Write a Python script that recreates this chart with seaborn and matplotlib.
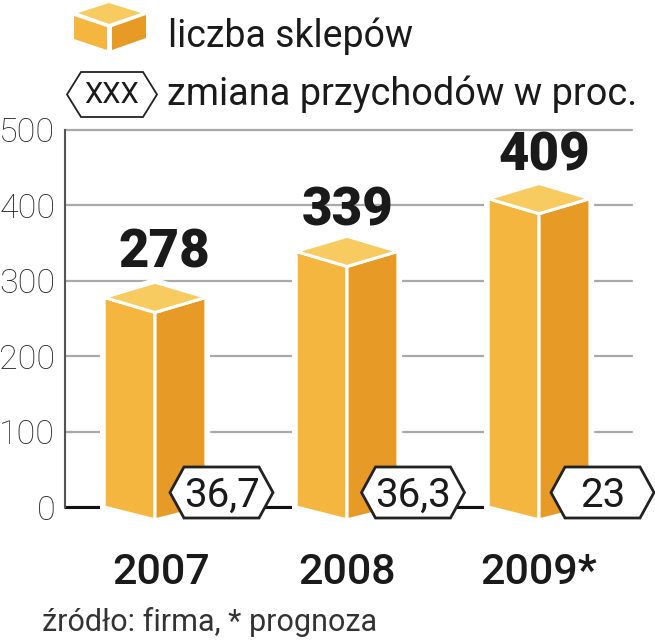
import matplotlib
matplotlib.use("Agg")
import matplotlib.pyplot as plt
from matplotlib.patches import Polygon
import seaborn as sns

# Data
years = ["2007", "2008", "2009*"]
stores = [278, 339, 409]
revenue_change = ["36,7", "36,3", "23"]
y_ticks = [0, 100, 200, 300, 400, 500]

LIGHT = "#F4B63F"
DARK = "#E79A26"
TOP = "#F7CB60"
W, H = 655, 640

sns.set_theme(style="white")
plt.rcParams["font.family"] = ["Roboto", "DejaVu Sans"]

fig = plt.figure(figsize=(W / 100, H / 100), dpi=100)
ax = fig.add_axes([65 / W, 1 - 507 / H, (632 - 65) / W, (507 - 130) / H])

sns.barplot(x=years, y=stores, color=LIGHT, width=0.53, ax=ax)
ax.set_xlim(-0.469, 2.484)
ax.set_ylim(0, 500)

# Axis look
sns.despine(ax=ax, left=False, bottom=True, top=True, right=True)
ax.spines["left"].set_color("#555555")
ax.spines["left"].set_linewidth(1.5)
ax.set_yticks(y_ticks)
ax.tick_params(axis="y", length=0, pad=7, labelsize=24.5, labelcolor="#2A2A2A")
for lab in ax.get_yticklabels():
    lab.set_fontweight("light")
ax.set_xticks([])
ax.grid(axis="y", color="#A9A9A9", linewidth=1.6)
for line in ax.get_ygridlines():
    line.set_clip_on(False)
ax.set_axisbelow(True)
ax.axhline(0, color="#111111", linewidth=2.2, zorder=1.5, clip_on=False)

# Turn each bar into a box
drop = 20
foot = 17
for bar, v in zip(list(ax.patches), stores):
    x0 = bar.get_x()
    x2 = x0 + bar.get_width()
    x1 = (x0 + x2) / 2
    bar.set_visible(False)
    outline = [(x0, 0), (x1, -foot), (x2, 0), (x2, v), (x1, v + drop), (x0, v)]
    ax.add_patch(Polygon(outline, fc="white", ec="white", lw=6, zorder=2, clip_on=False))
    faces = [
        ([(x0, 0), (x1, -foot), (x1, v - drop), (x0, v)], LIGHT),
        ([(x1, -foot), (x2, 0), (x2, v), (x1, v - drop)], DARK),
        ([(x0, v), (x1, v - drop), (x2, v), (x1, v + drop)], TOP),
    ]
    for pts, col in faces:
        ax.add_patch(Polygon(pts, fc=col, ec="white", lw=2.2, joinstyle="miter", zorder=3, clip_on=False))

# Value labels
label_dx = [0.05, 0.005, 0.03]
label_dy = [39, 35, 37]
for i, v in enumerate(stores):
    ax.text(i + label_dx[i], v + label_dy[i], str(v), ha="center", va="baseline", fontsize=38,
            fontweight="black", color="#1A1A1A", zorder=5, clip_on=False)

# Year labels
year_dx = [0.03, 0.0, 0.0]
for i, y in enumerate(years):
    ax.text(i + year_dx[i], -102, y, ha="center", va="baseline", fontsize=31,
            fontweight="medium", color="#1A1A1A", clip_on=False)


def hexagon(cx, cy, w, h, inset, lw=2.0):
    pts = [(cx - w / 2, cy), (cx - w / 2 + inset, cy - h / 2), (cx + w / 2 - inset, cy - h / 2),
           (cx + w / 2, cy), (cx + w / 2 - inset, cy + h / 2), (cx - w / 2 + inset, cy + h / 2)]
    pts = [(px / W, 1 - py / H) for px, py in pts]
    fig.add_artist(Polygon(pts, closed=True, transform=fig.transFigure, fc="white", ec="#222222",
                           lw=lw, joinstyle="miter", zorder=6))


def cube_face(pts, col):
    pts = [(px / W, 1 - py / H) for px, py in pts]
    fig.add_artist(Polygon(pts, transform=fig.transFigure, fc=col, ec="none"))


# Revenue change badges
badge_x = [221.5, 413, 602.5]
for cx, txt in zip(badge_x, revenue_change):
    hexagon(cx, 492.5, 103, 51, 14)
    fig.text(cx / W, 1 - 507 / H, txt, ha="center", va="baseline", fontsize=29,
             color="#1A1A1A", zorder=7)

# Legend
cube_face([(78, 13), (109, 3), (141, 13), (109, 24)], TOP)
cube_face([(74, 16), (107, 27), (107, 50), (74, 39)], LIGHT)
cube_face([(112, 27), (146, 15), (146, 38), (112, 50)], DARK)
fig.text(168 / W, 1 - 47 / H, "liczba sklepów", ha="left", va="baseline", fontsize=27, color="#1A1A1A")
hexagon(112, 94.5, 90, 45, 14, lw=1.3)
fig.text(112 / W, 1 - 103 / H, "XXX", ha="center", va="baseline", fontsize=21, color="#1A1A1A", zorder=7)
fig.text(167 / W, 1 - 105 / H, "zmiana przychodów w proc.", ha="left", va="baseline", fontsize=27.3, color="#1A1A1A")

# Source
fig.text(42 / W, 1 - 631 / H, "źródło: firma, * prognoza", ha="left", va="baseline", fontsize=22,
         color="#333333")

fig.savefig("out.png", dpi=100)
